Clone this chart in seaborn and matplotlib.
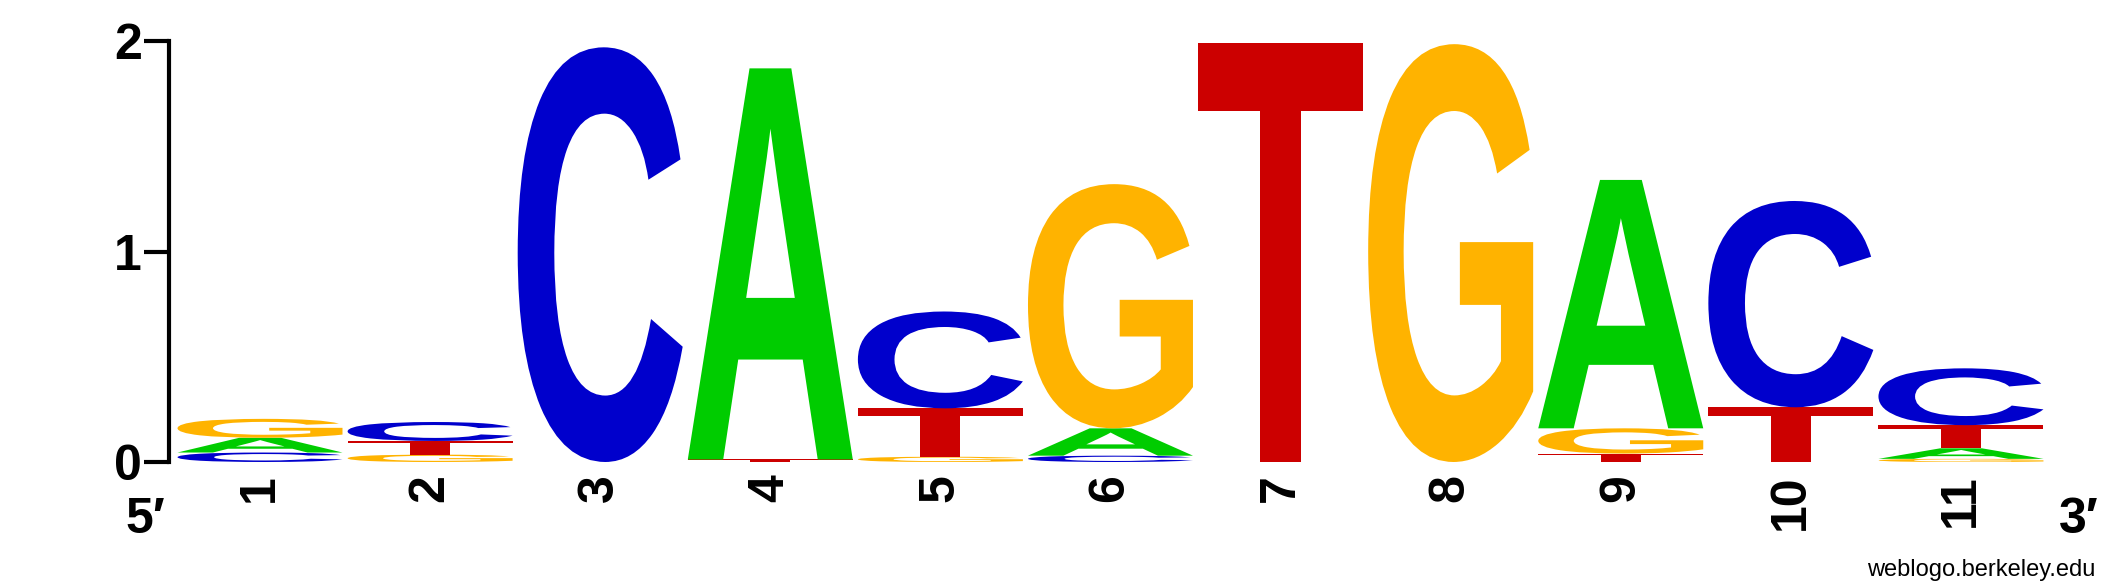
import numpy as np
import pandas as pd
import matplotlib
matplotlib.use("Agg")
import matplotlib.pyplot as plt
import seaborn as sns
from matplotlib.textpath import TextPath
from matplotlib.font_manager import FontProperties
from matplotlib.patches import PathPatch
from matplotlib.transforms import Affine2D

# ---- data (bits per letter at each position) ----
positions = [1, 2, 3, 4, 5, 6, 7, 8, 9, 10, 11]
tick_labels = ["1", "2", "3", "4", "5", "6", "7", "8", "9", "10", "11"]
bits_A = [0.070, 0.000, 0.000, 1.858, 0.000, 0.130, 0.000, 0.000, 1.180, 0.000, 0.050]
bits_C = [0.045, 0.090, 1.970, 0.000, 0.460, 0.030, 0.000, 0.000, 0.000, 0.980, 0.270]
bits_G = [0.090, 0.035, 0.000, 0.000, 0.025, 1.160, 0.000, 1.985, 0.120, 0.000, 0.015]
bits_T = [0.000, 0.065, 0.000, 0.012, 0.230, 0.000, 1.990, 0.000, 0.040, 0.260, 0.110]
letters = ["A", "C", "G", "T"]
colors = {"A": "#00CC00", "C": "#0000CC", "G": "#FFB300", "T": "#CC0000"}

df = pd.DataFrame({"pos": positions, "A": bits_A, "C": bits_C, "G": bits_G, "T": bits_T})

sns.set_theme(style="white")
plt.rcParams["font.family"] = ["Liberation Sans", "DejaVu Sans"]
plt.rcParams["text.color"] = "black"
plt.rcParams["xtick.color"] = "black"
plt.rcParams["ytick.color"] = "black"
plt.rcParams["xtick.labelcolor"] = "black"
plt.rcParams["ytick.labelcolor"] = "black"

W, H = 2125, 588
fig = plt.figure(figsize=(W / 100, H / 100), dpi=100)
ax = fig.add_axes([169 / W, 126 / H, (2046 - 169) / W, 421 / H])

fp = FontProperties(family="Liberation Sans", weight="bold")
glyphs = {}
for L in letters:
    tp = TextPath((0, 0), L, size=1, prop=fp)
    ext = tp.get_extents()
    glyphs[L] = (tp, ext)

letter_w = 0.97

def draw_letter(L, xc, y0, h):
    tp, ext = glyphs[L]
    sx = letter_w / ext.width
    sy = h / ext.height
    tr = (Affine2D().translate(-ext.x0, -ext.y0).scale(sx, sy)
          .translate(xc - letter_w / 2, y0))
    path = tr.transform_path(tp)
    patch = PathPatch(path, facecolor=colors[L], edgecolor="none",
                      transform=ax.transData, clip_on=False, lw=0)
    ax.add_patch(patch)

for _, row in df.iterrows():
    items = sorted([(row[L], L) for L in letters if row[L] > 0])
    y = 0.0
    for h, L in items:
        draw_letter(L, row["pos"], y, h)
        y += h

ax.set_xlim(0.465, 11.5)
ax.set_ylim(0, 2)
sns.despine(ax=ax, left=False, bottom=True, top=True, right=True)
ax.spines["left"].set_bounds(0, 2)
ax.spines["left"].set_linewidth(3.0)
ax.spines["left"].set_color("black")

ax.set_yticks([0, 1, 2])
ax.set_yticklabels(["0", "1", "2"], fontsize=36, fontweight="bold", color="black")
ax.tick_params(axis="y", left=True, length=18, width=3.0, pad=1.5, colors="black")

ax.set_xticks(positions)
ax.set_xticklabels(tick_labels, rotation=90, fontsize=36, fontweight="bold", color="black")
ax.tick_params(axis="x", bottom=False, length=0, pad=9, colors="black")
ax.grid(False)
ax.set_facecolor("white")

fig.text(145.5 / W, 1 - 520 / H, "5\u2032", fontsize=36, fontweight="bold",
         ha="center", va="center", color="black")
fig.text(2079 / W, 1 - 520 / H, "3\u2032", fontsize=36, fontweight="bold",
         ha="center", va="center", color="black")
fig.text(2095 / W, 1 - 576 / H, "weblogo.berkeley.edu", fontsize=17,
         ha="right", va="baseline", color="black")

fig.savefig("out.png", dpi=100, facecolor="white")
